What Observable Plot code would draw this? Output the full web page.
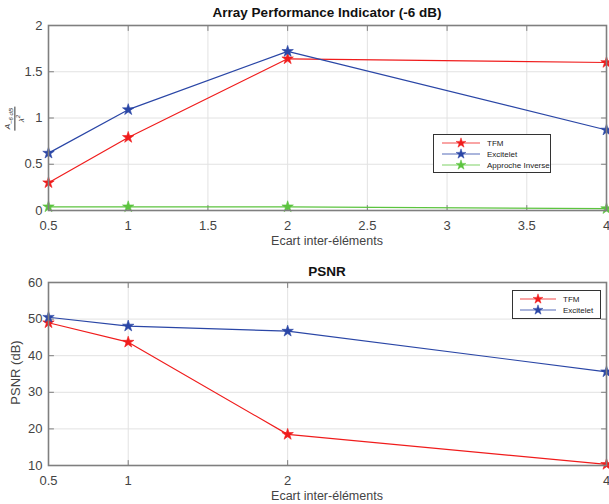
<!DOCTYPE html>
<html>
<head>
<meta charset="utf-8">
<script src="https://cdn.jsdelivr.net/npm/d3@7"></script>
<script src="https://cdn.jsdelivr.net/npm/@observablehq/plot@0.6"></script>
<style>
  html, body { margin: 0; padding: 0; background: #fff; }
  body { width: 609px; height: 504px; position: relative; overflow: hidden; font-family: "Liberation Sans", Arial, sans-serif; }
  .abs { position: absolute; }
  .title { font-weight: bold; font-size: 13.5px; color: #111; text-align: center; width: 558px; left: 48px; }
  .xlabel { font-size: 12.5px; color: #444; text-align: center; width: 558px; left: 48px; }
  .legend { background: #fff; border: 1px solid #333; }
  .legend svg { display: block; }
</style>
</head>
<body>
<div id="top" class="abs" style="left:0;top:0"></div>
<div id="bottom" class="abs" style="left:0;top:255px"></div>
<div class="abs title" style="top:5px">Array Performance Indicator (-6 dB)</div>
<div class="abs xlabel" style="top:234px">Ecart inter-éléments</div>
<div class="abs title" style="top:264px">PSNR</div>
<div class="abs xlabel" style="top:489px">Ecart inter-éléments</div>
<div class="abs" style="left:-35px;top:108px;width:100px;text-align:center;transform:rotate(-90deg);font-size:8px;color:#333;">
  <div style="display:inline-block;text-align:center;line-height:1;">
    <div style="font-style:italic;padding:0 1px;">A<sub style="font-size:6px;font-style:italic">−6 dB</sub></div>
    <div style="border-top:1px solid #333;font-style:italic;">λ<sup style="font-size:6px">2</sup></div>
  </div>
</div>
<div class="abs" style="left:-35px;top:365px;width:100px;text-align:center;transform:rotate(-90deg);font-size:13px;color:#444;">PSNR (dB)</div>
<div id="leg1" class="abs legend" style="left:433px;top:134px;width:116px;height:37px"></div>
<div id="leg2" class="abs legend" style="left:512px;top:290px;width:87px;height:27px"></div>
<script>
// ---- data ----
const spacing = [0.5, 1, 2, 4];
const apiTFM = [0.30, 0.79, 1.64, 1.60];
const apiExcitelet = [0.62, 1.09, 1.72, 0.87];
const apiInverse = [0.04, 0.04, 0.04, 0.02];
const psnrTFM = [49.0, 43.7, 18.5, 10.3];
const psnrExcitelet = [50.5, 48.1, 46.7, 35.6];
const seriesNames = ["TFM", "Excitelet", "Approche Inverse"];
const seriesColors = ["#f01c1c", "#2a46a6", "#5cc43f"];
const xTicksTop = [0.5, 1, 1.5, 2, 2.5, 3, 3.5, 4];
const xTicksBottom = [0.5, 1, 2, 4];
const yTicksTop = [0, 0.5, 1, 1.5, 2];
const yTicksBottom = [10, 20, 30, 40, 50, 60];

const toRows = (pairs) => pairs.flatMap(([name, vals]) => spacing.map((x, i) => ({x, y: vals[i], s: name})));
const topRows = toRows([["TFM", apiTFM], ["Excitelet", apiExcitelet], ["Approche Inverse", apiInverse]]);
const bottomRows = toRows([["TFM", psnrTFM], ["Excitelet", psnrExcitelet]]);

const tickShape = { draw(ctx, l) { ctx.moveTo(0, 0); ctx.lineTo(0, -l); } };
const axisGray = "#7f7f7f";

function inwardTicks(xt, yt) {
  const o = {length: 5, anchor: "start", shape: tickShape, stroke: axisGray, strokeWidth: 1};
  return [
    Plot.vector(xt, {x: d => d, frameAnchor: "bottom", rotate: 0, ...o}),
    Plot.vector(xt, {x: d => d, frameAnchor: "top", rotate: 180, ...o}),
    Plot.vector(yt, {y: d => d, frameAnchor: "left", rotate: 90, ...o}),
    Plot.vector(yt, {y: d => d, frameAnchor: "right", rotate: -90, ...o})
  ];
}

function makePlot(rows, xt, yt, ydom, height, mt, mb) {
  return Plot.plot({
    width: 609, height,
    marginLeft: 48, marginRight: 3, marginTop: mt, marginBottom: mb,
    style: {fontFamily: "Liberation Sans, Arial, sans-serif", background: "transparent"},
    x: {domain: [0.5, 4]},
    y: {domain: ydom},
    color: {domain: seriesNames, range: seriesColors},
    marks: [
      Plot.gridX(xt, {stroke: "#e2e2e2", strokeOpacity: 1}),
      Plot.gridY(yt, {stroke: "#e2e2e2", strokeOpacity: 1}),
      Plot.axisX(xt, {tickSize: 0, tickPadding: 10, fontSize: 13, color: "#444", label: null, tickFormat: d => String(d)}),
      Plot.axisY(yt, {tickSize: 0, tickPadding: 6, fontSize: 13, color: "#444", label: null, tickFormat: d => String(d)}),
      ...inwardTicks(xt, yt),
      Plot.line(rows, {x: "x", y: "y", z: "s", stroke: "s", strokeWidth: 1.2}),
      Plot.dot(rows, {x: "x", y: "y", fill: "s", stroke: "s", symbol: "star", r: 3.6, strokeWidth: 0.6}),
      Plot.frame({stroke: axisGray, strokeWidth: 1.6})
    ]
  });
}

document.getElementById("top").append(makePlot(topRows, xTicksTop, yTicksTop, [0, 2], 250, 25, 40));
document.getElementById("bottom").append(makePlot(bottomRows, xTicksBottom, yTicksBottom, [10, 60], 249, 27, 39));

function legend(el, names, w, h, lx0, lx1, tx) {
  const svg = d3.select(el).append("svg").attr("width", w).attr("height", h);
  const star = d3.symbol(d3.symbolStar, 30)();
  names.forEach((n, i) => {
    const c = seriesColors[seriesNames.indexOf(n)];
    const y = 8 + i * 11;
    svg.append("line").attr("x1", lx0).attr("x2", lx1).attr("y1", y).attr("y2", y).attr("stroke", c).attr("stroke-width", 1.1).attr("stroke-opacity", 0.8);
    svg.append("path").attr("d", star).attr("transform", `translate(${(lx0 + lx1) / 2},${y})`).attr("fill", c).attr("stroke", c).attr("stroke-width", 0.5);
    svg.append("text").attr("x", tx).attr("y", y + 3).attr("font-size", 8).attr("fill", "#222")
      .attr("font-family", "Liberation Sans, Arial, sans-serif").text(n);
  });
}
legend(document.getElementById("leg1"), seriesNames, 116, 37, 8, 46, 53);
legend(document.getElementById("leg2"), ["TFM", "Excitelet"], 87, 27, 7, 43, 50);
</script>
</body>
</html>
